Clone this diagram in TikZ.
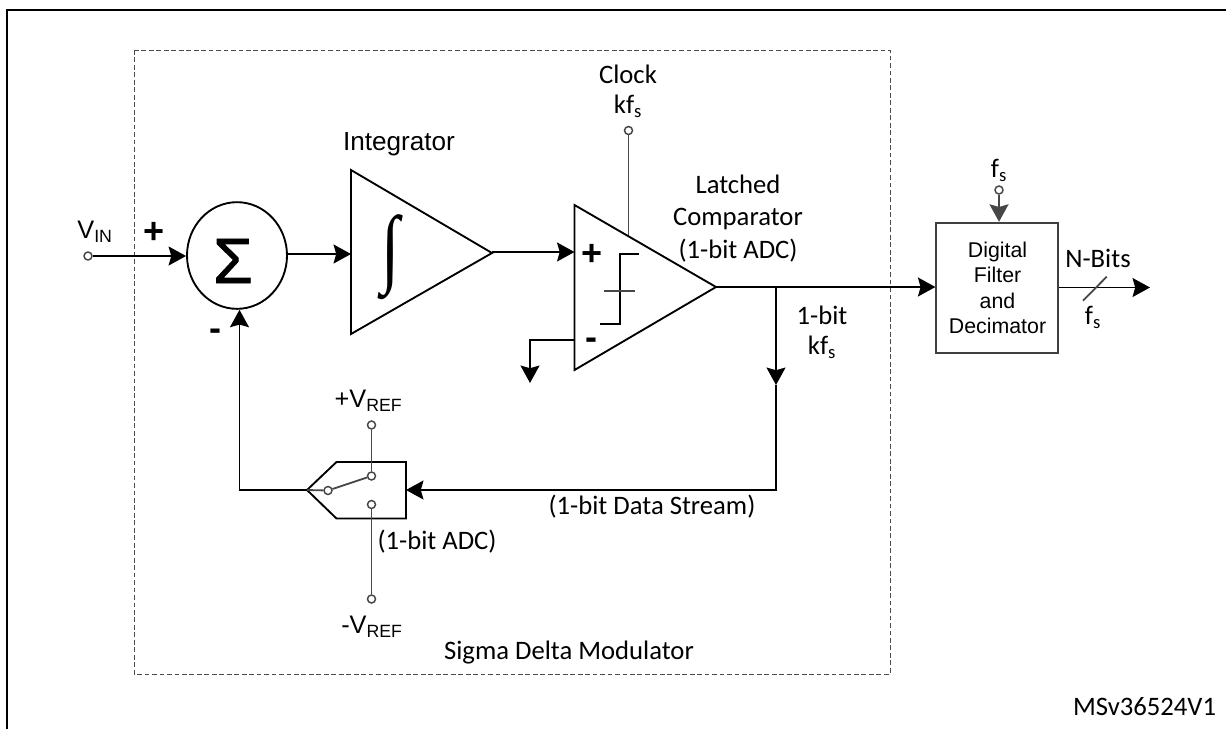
\documentclass[tikz,border=0pt]{standalone}
\usepackage{fontspec}
\setmainfont{Carlito}
\newfontfamily\arialfont{Liberation Sans}
\newfontfamily\sigmafont[FakeBold=1.3]{Liberation Sans}
\newfontfamily\intfont{Liberation Serif}
\usepackage{tikz}
\usetikzlibrary{arrows.meta}
\usetikzlibrary{shapes.geometric}
\colorlet{wiregray}{black!72}
\newcommand{\subtxt}[2]{#1\textsubscript{#2}}

\begin{document}
\begin{tikzpicture}[x=0.75pt,y=-0.75pt]
\tikzset{>={Stealth[width=5mm,length=4.6mm,inset=0.7mm]}}
\tikzstyle{wire} =[draw=black,line width=1.4pt]
\tikzstyle{thinwire} =[draw=wiregray,line width=1.35pt]
\tikzstyle{term} =[circle,draw=wiregray,fill=white,line width=1.1pt,inner sep=0pt,minimum size=6pt]
\tikzstyle{lbl} =[inner sep=0pt,align=center,font=\fontsize{20}{24.4}\selectfont]
\tikzstyle{arlbl} =[inner sep=0pt,align=center,font=\arialfont\fontsize{19}{21}\selectfont]
\tikzstyle{sign} =[inner sep=0pt,font=\arialfont\bfseries\fontsize{27}{27}\selectfont]
\useasboundingbox (0,0) rectangle (1226,729);

% frame and modulator box
\draw [line width=1.5pt] (7,729) -- (7,10) -- (1226,10);
\draw [draw=black!70,dash pattern=on 3.6pt off 2pt,line width=0.6pt] (134,50) rectangle (890,674);

% blocks
\node[ellipse,draw,line width=1.4pt,inner sep=0pt,minimum width=75pt,minimum height=80pt](sum) at (237,255.5){};
\node[inner sep=0pt,font=\sigmafont\fontsize{48}{48}\selectfont] at (233,261){Σ};
\coordinate (intA) at (351,170);
\coordinate (intB) at (351,334);
\coordinate (intC) at (492,253);
\draw [wire] (intA) -- (intC) -- (intB) -- cycle;
\node[inner sep=0pt,font=\intfont\fontsize{50}{50}\selectfont] at (391,257.5){\scalebox{1}[1.3]{∫}};
\coordinate (cmpA) at (574.5,205);
\coordinate (cmpB) at (574.5,370);
\coordinate (cmpC) at (716,287);
\draw [wire] (cmpA) -- (cmpC) -- (cmpB) -- cycle;
\node[draw=black!75,line width=1.4pt,minimum width=91pt,minimum height=97.5pt,inner sep=0pt](filt) at (997,287.7){};
\coordinate (swA) at (307,490);
\draw [wire,line join=miter] (swA) -- (336.5,462) -- (406,462) -- (406,518.5) -- (336.5,518.5) -- cycle;

% comparator glyph
\draw [wire] (639,254) -- (620,254) -- (620,324) -- (600,324);
\draw [thinwire,line width=1pt] (604,291) -- (635,291);

% terminals
\node[term](vin) at (88,256){};
\node[term](clk) at (628.5,130.5){};
\node[term](fsin) at (999,190){};
\node[term](refp) at (371.5,425){};
\node[term](refm) at (371.5,599){};
\node[term](swp) at (371.5,476){};
\node[term](swm) at (371.5,504.5){};
\node[term](swc) at (328,490.5){};

% connectors
\coordinate (clkdn) at (628.5,235);
\coordinate (gnd) at (530,383);
\coordinate (minus) at (574.5,340);
\coordinate (branch) at (776,287);
\coordinate (corner) at (776,490);
\coordinate (fbk) at (239.5,490);
\coordinate (outend) at (1150,287.5);
\coordinate (sigout) at (287,254);
\coordinate (intin) at (351,254);
\coordinate (intout) at (492,252);
\coordinate (cmpin) at (574.5,252);
\coordinate (swin) at (406,490);
\coordinate (midarrow) at (776,385);
\coordinate (slashA) at (1083,300.7);
\coordinate (slashB) at (1106.7,276.7);
\draw [->,wire] (vin) -- (sum.west |- vin);
\draw [->,wire] (sigout) -- (intin);
\draw [->,wire] (intout) -- (cmpin);
\draw [thinwire] (clk) -- (clkdn);
\draw [->,wire] (minus) -- (gnd |- minus) -- (gnd);
\draw [->,wire] (cmpC) -- (filt.west |- cmpC);
\draw [->,wire] (branch) -- (midarrow);
\draw [->,wire] (midarrow) -- (corner) -- (swin);
\draw [->,wire] (swA) -- (fbk) -- (sum.south -| fbk);
\draw [thinwire] (swA) -- (swc);
\draw [thinwire] (swc) -- (swp);
\draw [thinwire] (refp) -- (swp);
\draw [thinwire] (swm) -- (refm);
\draw [->,thinwire,line width=1.4pt] (fsin) -- (filt.north -| fsin);
\draw [->,wire] (filt.east |- outend) -- (outend);
\draw [thinwire] (slashA) -- (slashB);

% labels
\node[arlbl] at (95,232){V\textsubscript{IN}};
\node[sign] at (154,233){+};
\node[sign] at (215,335){-};
\node[arlbl,font=\arialfont\fontsize{19.6}{21}\selectfont] at (399,144){Integrator};
\node[lbl] at (628,91.5){Clock\\[-2pt]\subtxt{kf}{s}};
\node[lbl] at (738,218.5){Latched\\Comparator\\(1-bit ADC)};
\node[sign] at (592.5,255){+};
\node[sign] at (591,344){-};
\node[lbl] at (822,332){1-bit\\[-2pt]\subtxt{kf}{s}};
\node[lbl] at (652,507){(1-bit Data Stream)};
\node[lbl] at (437,542){(1-bit ADC)};
\node[arlbl] at (368.5,401){+V\textsubscript{REF}};
\node[arlbl] at (372,627){-V\textsubscript{REF}};
\node[lbl] at (569,653){Sigma Delta Modulator};
\node[lbl] at (999,170){\subtxt{f}{s}};
\node[arlbl,font=\arialfont\fontsize{16}{19}\selectfont] at (997.5,288){Digital\\Filter\\and\\Decimator};
\node[lbl] at (1098,258){N-Bits};
\node[lbl] at (1093,317){\subtxt{f}{s}};
\node[lbl] at (1144.5,707){MSv36524V1};
\end{tikzpicture}
\end{document}
